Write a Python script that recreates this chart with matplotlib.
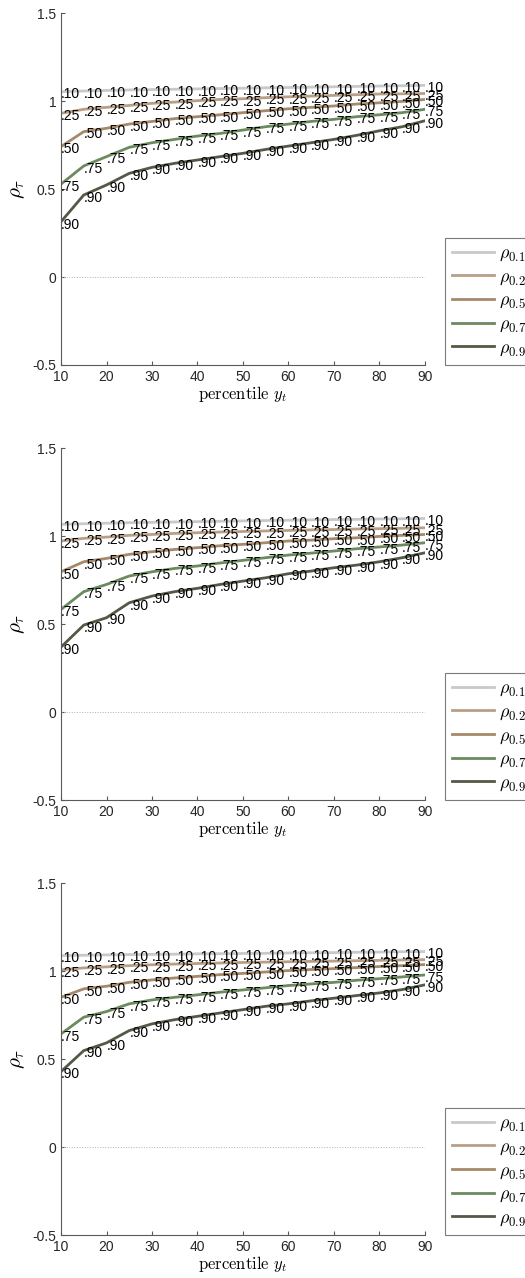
import matplotlib
matplotlib.use("Agg")
import matplotlib.pyplot as plt
import numpy as np

plt.rcParams['font.family'] = ['Liberation Sans', 'DejaVu Sans']
plt.rcParams['mathtext.fontset'] = 'cm'

# percentile grid
pct = np.arange(10, 95, 5)
quantiles = ['0.10', '0.25', '0.50', '0.75', '0.90']
short_labels = ['.10', '.25', '.50', '.75', '.90']
colors = ['#c9c9c9', '#b89f86', '#a6896a', '#6b8a5e', '#525a47']

# panel 1
p1_q10 = [1.053, 1.057, 1.060, 1.063, 1.065, 1.067, 1.069, 1.071, 1.073, 1.075, 1.077, 1.079, 1.081, 1.083, 1.085, 1.087, 1.089]
p1_q25 = [0.930, 0.953, 0.964, 0.975, 0.987, 0.994, 1.002, 1.009, 1.013, 1.019, 1.024, 1.028, 1.032, 1.036, 1.040, 1.041, 1.043]
p1_q50 = [0.741, 0.826, 0.845, 0.869, 0.884, 0.900, 0.911, 0.922, 0.934, 0.945, 0.956, 0.964, 0.972, 0.983, 0.990, 0.998, 1.009]
p1_q75 = [0.528, 0.631, 0.684, 0.737, 0.763, 0.782, 0.801, 0.816, 0.835, 0.854, 0.869, 0.884, 0.896, 0.911, 0.922, 0.934, 0.953]
p1_q90 = [0.314, 0.466, 0.523, 0.589, 0.623, 0.646, 0.665, 0.684, 0.703, 0.725, 0.744, 0.763, 0.782, 0.805, 0.831, 0.854, 0.888]

# panel 2
p2_q10 = [1.066, 1.070, 1.073, 1.076, 1.078, 1.080, 1.082, 1.084, 1.086, 1.088, 1.090, 1.092, 1.094, 1.095, 1.097, 1.098, 1.100]
p2_q25 = [0.972, 0.987, 0.994, 1.004, 1.009, 1.015, 1.019, 1.023, 1.026, 1.029, 1.032, 1.035, 1.037, 1.040, 1.042, 1.044, 1.047]
p2_q50 = [0.797, 0.854, 0.873, 0.896, 0.911, 0.924, 0.934, 0.945, 0.953, 0.962, 0.972, 0.977, 0.985, 0.990, 0.998, 1.004, 1.009]
p2_q75 = [0.583, 0.684, 0.725, 0.773, 0.797, 0.816, 0.830, 0.847, 0.862, 0.877, 0.892, 0.903, 0.915, 0.928, 0.938, 0.949, 0.962]
p2_q90 = [0.369, 0.494, 0.536, 0.621, 0.659, 0.684, 0.703, 0.725, 0.744, 0.763, 0.786, 0.801, 0.820, 0.835, 0.854, 0.877, 0.905]

# panel 3
p3_q10 = [1.088, 1.090, 1.092, 1.094, 1.095, 1.096, 1.098, 1.099, 1.100, 1.101, 1.103, 1.104, 1.105, 1.107, 1.108, 1.110, 1.111]
p3_q25 = [1.007, 1.018, 1.024, 1.031, 1.036, 1.040, 1.043, 1.046, 1.049, 1.051, 1.053, 1.055, 1.057, 1.059, 1.061, 1.063, 1.065]
p3_q50 = [0.851, 0.899, 0.914, 0.936, 0.950, 0.961, 0.970, 0.980, 0.987, 0.995, 1.003, 1.009, 1.014, 1.020, 1.026, 1.031, 1.037]
p3_q75 = [0.643, 0.738, 0.770, 0.814, 0.836, 0.851, 0.865, 0.880, 0.893, 0.905, 0.918, 0.927, 0.936, 0.948, 0.957, 0.967, 0.978]
p3_q90 = [0.429, 0.548, 0.592, 0.662, 0.700, 0.724, 0.743, 0.762, 0.781, 0.800, 0.814, 0.831, 0.846, 0.861, 0.876, 0.895, 0.922]

panels = [
    [p1_q10, p1_q25, p1_q50, p1_q75, p1_q90],
    [p2_q10, p2_q25, p2_q50, p2_q75, p2_q90],
    [p3_q10, p3_q25, p3_q50, p3_q75, p3_q90],
]

fig = plt.figure(figsize=(5.25, 12.78), dpi=100)
bottoms = [0.7144, 0.374, 0.0336]
axcol = '#5a5a5a'

for bottom, series in zip(bottoms, panels):
    ax = fig.add_axes([0.1162, bottom, 0.6933, 0.2754])
    ax.plot([10, 90], [0, 0], ':', color='#b0b0b0', lw=0.7)
    for vals, q, lab, c in zip(series, quantiles, short_labels, colors):
        ax.plot(pct, vals, color=c, lw=2.0, label=r'$\rho_{%s}$' % q)
        for xv, yv in zip(pct, vals):
            ax.annotate(lab, (xv, yv), xytext=(0, -2), textcoords='offset points',
                        ha='left', va='center', fontsize=10, color='black')
    ax.set_xlim(10, 90)
    ax.set_ylim(-0.5, 1.5)
    ax.set_xticks(np.arange(10, 100, 10))
    ax.set_yticks([-0.5, 0, 0.5, 1, 1.5])
    ax.set_yticklabels(['-0.5', '0', '0.5', '1', '1.5'])
    ax.spines['top'].set_visible(False)
    ax.spines['right'].set_visible(False)
    for s in ['left', 'bottom']:
        ax.spines[s].set_color(axcol)
        ax.spines[s].set_linewidth(0.8)
    ax.tick_params(direction='in', length=3, colors=axcol, labelcolor='#262626', labelsize=10)
    ax.set_xlabel(r'$\mathrm{percentile}\ y_t$', fontsize=12, labelpad=0)
    ax.set_ylabel(r'$\rho_\tau$', fontsize=15, labelpad=4)
    leg = ax.legend(loc='lower left', bbox_to_anchor=(1.055, 0.0), fontsize=13,
                    frameon=True, fancybox=False, edgecolor=axcol, handlelength=2.3,
                    handletextpad=0.3, borderaxespad=0, labelspacing=0.3, borderpad=0.4)
    leg.get_frame().set_linewidth(0.8)

fig.savefig('out.png', dpi=100)
